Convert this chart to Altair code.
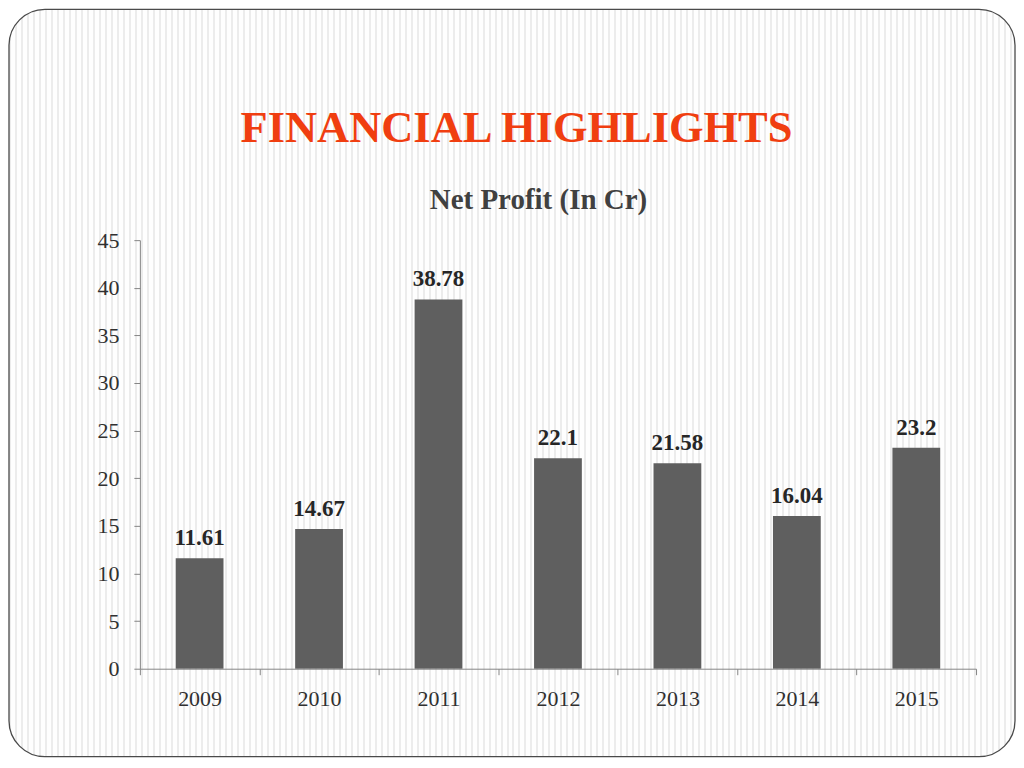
import altair as alt
import pandas as pd

years = ["2009", "2010", "2011", "2012", "2013", "2014", "2015"]
profit = [11.61, 14.67, 38.78, 22.1, 21.58, 16.04, 23.2]
label_text = ["11.61", "14.67", "38.78", "22.1", "21.58", "16.04", "23.2"]
y_ticks = [0, 5, 10, 15, 20, 25, 30, 35, 40, 45]
title_text = "FINANCIAL HIGHLIGHTS"
subtitle_text = "Net Profit (In Cr)"

df = pd.DataFrame({"year": years, "profit": profit, "label": label_text})
one = pd.DataFrame({"t": [title_text], "s": [subtitle_text]})

W, H = 837, 429
FONT = "Liberation Serif"

# striped slide background as a gradient (pixel-aligned)
BG_W = 1007
pitch, stripe = 6, 2
stops = []
for i in range(BG_W // pitch + 1):
    a = min(i * pitch / BG_W, 1.0)
    b = min((i * pitch + stripe) / BG_W, 1.0)
    c = min((i + 1) * pitch / BG_W, 1.0)
    stops += [
        alt.GradientStop(offset=a, color="#ececec"),
        alt.GradientStop(offset=b, color="#ececec"),
        alt.GradientStop(offset=b, color="#fefefe"),
        alt.GradientStop(offset=c, color="#fefefe"),
    ]
grad = alt.LinearGradient(gradient="linear", stops=stops, x1=0, x2=1, y1=0, y2=0)

bg = alt.Chart(one).mark_rect(
    fill=grad, stroke="#4a4a4a", strokeWidth=1.3, cornerRadius=36
).encode(
    x=alt.value(-131), x2=alt.value(876), y=alt.value(-231), y2=alt.value(517)
)

title = alt.Chart(one).mark_text(
    font=FONT, fontSize=44.5, fontWeight="bold", color="#F03E10", align="center", baseline="alphabetic"
).encode(text="t:N", x=alt.value(377), y=alt.value(-98))

subtitle = alt.Chart(one).mark_text(
    font=FONT, fontSize=29, fontWeight="bold", color="#404040", align="center", baseline="alphabetic"
).encode(text="s:N", x=alt.value(399), y=alt.value(-31))

x_enc = alt.X(
    "year:N",
    sort=years,
    title=None,
    scale=alt.Scale(paddingInner=0, paddingOuter=0),
    axis=alt.Axis(
        labelAngle=0, labelFont=FONT, labelFontSize=22, labelColor="#303030",
        labelPadding=14, tickBand="extent", tickSize=6, tickColor="#868686",
        domainColor="#868686", grid=False, zindex=1,
    ),
)
y_enc = alt.Y(
    "profit:Q",
    title=None,
    scale=alt.Scale(domain=[0, 45], nice=False),
    axis=alt.Axis(
        values=y_ticks, labelFont=FONT, labelFontSize=22, labelColor="#303030",
        labelPadding=15, tickSize=6, tickColor="#868686", domainColor="#868686",
        grid=False, zindex=1,
    ),
)

bars = alt.Chart(df).mark_bar(color="#5f5f5f", width=alt.RelativeBandSize(0.4)).encode(x=x_enc, y=y_enc)
labels = alt.Chart(df).mark_text(
    font=FONT, fontSize=23, fontWeight="bold", color="#262626", baseline="alphabetic", dy=-13
).encode(x=alt.X("year:N", sort=years), y="profit:Q", text="label:N")

chart = alt.layer(bg, title, subtitle, bars, labels).properties(
    width=W, height=H,
    padding={"left": 132, "top": 232, "right": 40, "bottom": 90},
    autosize=alt.AutoSizeParams(type="none"),
    background="white",
).configure_view(stroke=None)

chart.save("out.html", embed_options={"renderer": "svg", "actions": False})
